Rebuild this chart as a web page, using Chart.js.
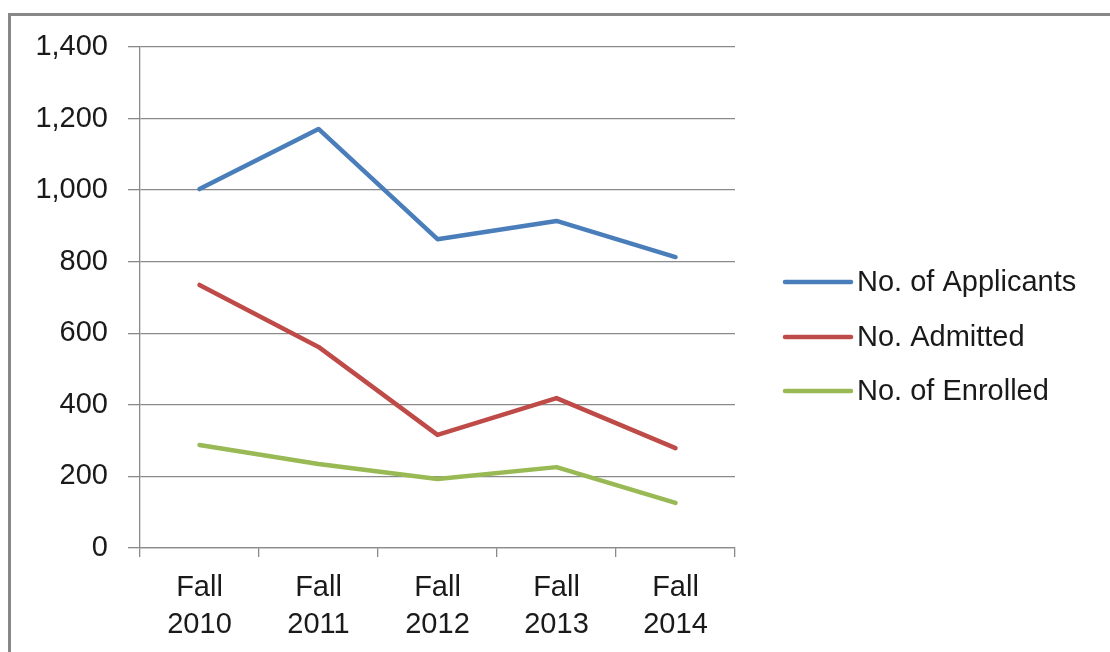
<!DOCTYPE html>
<html>
<head>
<meta charset="utf-8">
<script src="https://cdn.jsdelivr.net/npm/chart.js@4.4.1/dist/chart.umd.min.js"></script>
<style>
  html, body { margin: 0; padding: 0; background: #fff; }
  #wrap { position: relative; width: 1110px; height: 652px; overflow: hidden; }
  #frame { position: absolute; left: 8px; top: 13px; width: 1200px; height: 800px; border: 3px solid #878787; box-sizing: border-box; }
  canvas { position: absolute; left: 0; top: 0; }
</style>
</head>
<body>
<div id="wrap">
  <div id="frame"></div>
  <canvas id="c" width="1110" height="652"></canvas>
</div>
<script>
const categories = [["Fall", "2010"], ["Fall", "2011"], ["Fall", "2012"], ["Fall", "2013"], ["Fall", "2014"]];
const seriesNames = ["No. of Applicants", "No. Admitted", "No. of Enrolled"];
const applicants = [1003, 1171, 863, 914, 813];
const admitted = [735, 562, 316, 419, 279];
const enrolled = [288, 235, 193, 226, 126];
const seriesColors = ["#4A7EBB", "#BE4B48", "#98B954"];
const yTicks = [0, 200, 400, 600, 800, 1000, 1200, 1400];

const FONT = "'Liberation Sans', Arial, sans-serif";
const FONT_SIZE = 29;

const legendPlugin = {
  id: 'customLegend',
  afterDraw(chart) {
    const ctx = chart.ctx;
    const ys = [282, 337, 391];
    ctx.save();
    chart.data.datasets.forEach((ds, i) => {
      ctx.strokeStyle = ds.borderColor;
      ctx.lineWidth = 4.5;
      ctx.lineCap = 'round';
      ctx.beginPath();
      ctx.moveTo(785, ys[i]);
      ctx.lineTo(851, ys[i]);
      ctx.stroke();
      ctx.fillStyle = '#1a1a1a';
      ctx.font = FONT_SIZE + 'px ' + FONT;
      ctx.textBaseline = 'middle';
      ctx.textAlign = 'left';
      ctx.fillText(ds.label, 857, ys[i] + 1);
    });
    ctx.restore();
  }
};

const datasets = [applicants, admitted, enrolled].map((d, i) => ({
  label: seriesNames[i],
  data: d,
  borderColor: seriesColors[i],
  backgroundColor: seriesColors[i],
  borderWidth: 4.5,
  pointRadius: 0,
  tension: 0,
  fill: false,
  borderCapStyle: 'round',
  borderJoinStyle: 'round'
}));

new Chart(document.getElementById('c'), {
  type: 'line',
  data: { labels: categories, datasets },
  plugins: [legendPlugin],
  options: {
    responsive: false,
    animation: false,
    layout: { padding: { left: 0, top: 47, right: 375, bottom: 0 } },
    plugins: { legend: { display: false }, tooltip: { enabled: false } },
    scales: {
      y: {
        min: 0, max: 1400,
        afterFit(scale) { scale.width = 140; },
        afterBuildTicks(scale) { scale.ticks = yTicks.map(v => ({ value: v })); },
        ticks: {
          color: '#1a1a1a',
          font: { family: FONT, size: FONT_SIZE },
          padding: 20,
          callback: v => v.toLocaleString('en-US')
        },
        grid: { color: '#8a8a8a', lineWidth: 1.3, tickLength: 12, drawTicks: true },
        border: { color: '#8a8a8a', width: 1.3 }
      },
      x: {
        offset: true,
        afterFit(scale) { scale.height = 104; },
        ticks: {
          color: '#1a1a1a',
          font: { family: FONT, size: FONT_SIZE, lineHeight: 1.28 },
          padding: 12,
          maxRotation: 0,
          autoSkip: false
        },
        grid: { offset: true, drawOnChartArea: false, drawTicks: true, tickLength: 9, color: '#8a8a8a', lineWidth: 1.3 },
        border: { color: '#8a8a8a', width: 1.3 }
      }
    }
  }
});
</script>
</body>
</html>
